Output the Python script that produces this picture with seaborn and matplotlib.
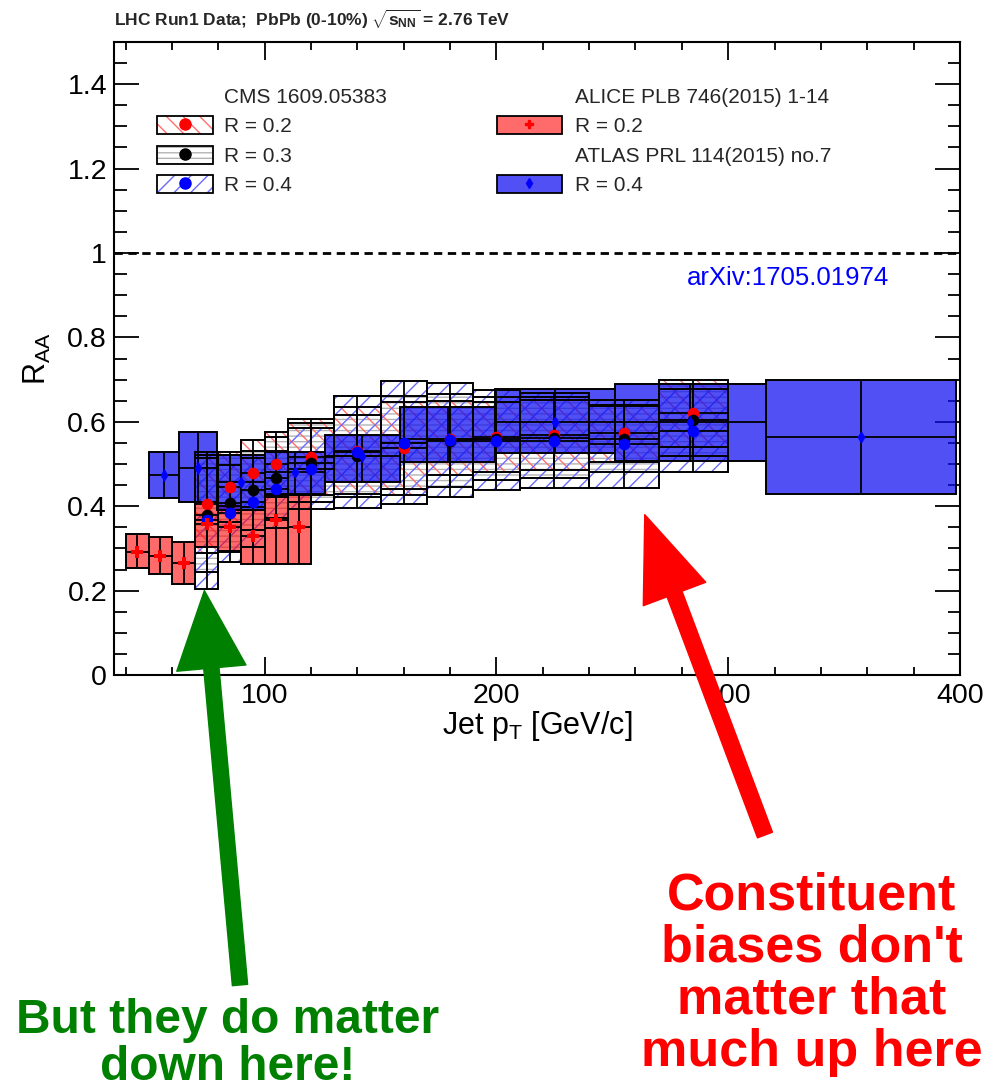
import numpy as np
import matplotlib
matplotlib.use("Agg")
import matplotlib.pyplot as plt
import seaborn as sns
from matplotlib.patches import Patch
from matplotlib.lines import Line2D
from matplotlib.legend_handler import HandlerTuple
from matplotlib.ticker import MultipleLocator, FuncFormatter

# ---------------- data ----------------
# CMS 1609.05383 (0-5%), jet pT bins shared by R = 0.2, 0.3, 0.4
cms_pt_low = [70, 80, 90, 100, 110, 130, 150, 170, 190, 210, 240, 270]
cms_pt_high = [80, 90, 100, 110, 130, 150, 170, 190, 210, 240, 270, 300]

cms_r02 = [0.405, 0.446, 0.478, 0.499, 0.516, 0.530, 0.537, 0.560, 0.565, 0.569, 0.573, 0.620]
cms_r02_sys_low = [0.288, 0.363, 0.399, 0.421, 0.426, 0.430, 0.427, 0.474, 0.482, 0.486, 0.505, 0.540]
cms_r02_sys_high = [0.522, 0.529, 0.557, 0.577, 0.606, 0.636, 0.648, 0.650, 0.648, 0.652, 0.641, 0.700]

cms_r03 = [0.380, 0.407, 0.438, 0.468, 0.503, 0.520, 0.550, 0.555, 0.560, 0.562, 0.560, 0.604]
cms_r03_sys_low = [0.245, 0.293, 0.344, 0.371, 0.410, 0.423, 0.440, 0.446, 0.462, 0.466, 0.482, 0.519]
cms_r03_sys_high = [0.515, 0.521, 0.532, 0.565, 0.596, 0.617, 0.660, 0.665, 0.658, 0.658, 0.638, 0.689]

cms_r04 = [0.367, 0.383, 0.409, 0.440, 0.489, 0.528, 0.549, 0.557, 0.555, 0.555, 0.547, 0.579]
cms_r04_sys_low = [0.205, 0.268, 0.304, 0.348, 0.393, 0.395, 0.405, 0.423, 0.438, 0.442, 0.442, 0.480]
cms_r04_sys_high = [0.529, 0.498, 0.514, 0.532, 0.585, 0.661, 0.697, 0.691, 0.675, 0.668, 0.652, 0.678]

# ALICE PLB 746 (2015) 1-14, R = 0.2
alice_pt_low = [40, 50, 60, 70, 80, 90, 100, 110]
alice_pt_high = [50, 60, 70, 80, 90, 100, 110, 120]
alice_r02 = [0.292, 0.282, 0.266, 0.357, 0.350, 0.330, 0.367, 0.350]
alice_sys_low = [0.254, 0.239, 0.216, 0.304, 0.292, 0.264, 0.264, 0.264]
alice_sys_high = [0.334, 0.326, 0.316, 0.411, 0.400, 0.391, 0.427, 0.427]

# ATLAS PRL 114 (2015) 072302, R = 0.4 (logarithmic pT bins)
atlas_pt_low = [50.1, 63.1, 79.4, 100.0, 125.9, 158.5, 199.5, 251.2, 316.2]
atlas_pt_high = [63.1, 79.4, 100.0, 125.9, 158.5, 199.5, 251.2, 316.2, 398.1]
atlas_r04 = [0.475, 0.490, 0.457, 0.480, 0.520, 0.560, 0.600, 0.600, 0.565]
atlas_sys_low = [0.420, 0.411, 0.391, 0.430, 0.458, 0.505, 0.525, 0.507, 0.430]
atlas_sys_high = [0.529, 0.577, 0.521, 0.529, 0.569, 0.634, 0.677, 0.689, 0.700]

# ---------------- style ----------------
sns.set_theme(style="ticks")
plt.rcParams["font.family"] = ["Liberation Sans", "DejaVu Sans"]
plt.rcParams["mathtext.fontset"] = "custom"
plt.rcParams["mathtext.rm"] = "Liberation Sans"
plt.rcParams["mathtext.it"] = "Liberation Sans:italic"
plt.rcParams["mathtext.bf"] = "Liberation Sans:bold"
plt.rcParams["hatch.linewidth"] = 1.0

RED_HATCH = "#ff6f6f"
BLUE_HATCH = "#6a6aff"
GRAY_HATCH = "#b4b4b4"
ALICE_FILL = (1.0, 0.0, 0.0, 0.58)
ATLAS_FILL = (0.05, 0.05, 0.95, 0.72)

fig = plt.figure(figsize=(9.98, 10.9), dpi=100)
ax = fig.add_axes([0.1142, 0.3807, 0.8477, 0.5808])


def bin_geometry(lo_edges, hi_edges):
    lo_edges = np.asarray(lo_edges, float)
    hi_edges = np.asarray(hi_edges, float)
    return lo_edges, hi_edges - lo_edges, 0.5 * (lo_edges + hi_edges)


def sys_boxes(lo_edges, hi_edges, sys_lo, sys_hi, z, **style):
    left, width, _ = bin_geometry(lo_edges, hi_edges)
    ax.bar(left, np.subtract(sys_hi, sys_lo), width=width, bottom=sys_lo,
           align="edge", zorder=z, **style)


def outline_and_cross(lo_edges, hi_edges, val, sys_lo, sys_hi):
    left, width, center = bin_geometry(lo_edges, hi_edges)
    ax.bar(left, np.subtract(sys_hi, sys_lo), width=width, bottom=sys_lo,
           align="edge", fill=False, edgecolor="black", linewidth=1.4, zorder=5)
    val = np.asarray(val)
    ax.errorbar(center, val, xerr=width / 2,
                yerr=[val - np.asarray(sys_lo), np.asarray(sys_hi) - val],
                fmt="none", ecolor="black", elinewidth=1.3, capsize=0, zorder=6)


# CMS hatched systematics boxes
sys_boxes(cms_pt_low, cms_pt_high, cms_r03_sys_low, cms_r03_sys_high, 2,
          facecolor="none", edgecolor=GRAY_HATCH, hatch="---", linewidth=0)
sys_boxes(cms_pt_low, cms_pt_high, cms_r02_sys_low, cms_r02_sys_high, 2,
          facecolor="none", edgecolor=RED_HATCH, hatch="\\\\", linewidth=0)
sys_boxes(cms_pt_low, cms_pt_high, cms_r04_sys_low, cms_r04_sys_high, 2,
          facecolor="none", edgecolor=BLUE_HATCH, hatch="//", linewidth=0)

# ALICE and ATLAS filled boxes
sys_boxes(alice_pt_low, alice_pt_high, alice_sys_low, alice_sys_high, 3,
          facecolor=ALICE_FILL, edgecolor="none", linewidth=0)
sys_boxes(atlas_pt_low, atlas_pt_high, atlas_sys_low, atlas_sys_high, 4,
          facecolor=ATLAS_FILL, edgecolor="none", linewidth=0)

# box outlines and error crosses
for lo_e, hi_e, v, slo, shi in [
    (cms_pt_low, cms_pt_high, cms_r03, cms_r03_sys_low, cms_r03_sys_high),
    (cms_pt_low, cms_pt_high, cms_r02, cms_r02_sys_low, cms_r02_sys_high),
    (cms_pt_low, cms_pt_high, cms_r04, cms_r04_sys_low, cms_r04_sys_high),
    (alice_pt_low, alice_pt_high, alice_r02, alice_sys_low, alice_sys_high),
    (atlas_pt_low, atlas_pt_high, atlas_r04, atlas_sys_low, atlas_sys_high),
]:
    outline_and_cross(lo_e, hi_e, v, slo, shi)

# markers
cms_x = bin_geometry(cms_pt_low, cms_pt_high)[2]
sns.scatterplot(x=cms_x, y=cms_r02, ax=ax, color="red", marker="o", s=70,
                linewidth=0, zorder=7, legend=False)
sns.scatterplot(x=cms_x, y=cms_r03, ax=ax, color="black", marker="o", s=70,
                linewidth=0, zorder=7, legend=False)
sns.scatterplot(x=cms_x, y=cms_r04, ax=ax, color="blue", marker="o", s=70,
                linewidth=0, zorder=7, legend=False)
sns.scatterplot(x=bin_geometry(atlas_pt_low, atlas_pt_high)[2], y=atlas_r04, ax=ax,
                color="blue", marker="d", s=45, linewidth=0, zorder=8, legend=False)
sns.scatterplot(x=bin_geometry(alice_pt_low, alice_pt_high)[2], y=alice_r02, ax=ax,
                color="red", marker="P", s=80, linewidth=0, zorder=8, legend=False)

# unity line
ax.axhline(1.0, color="black", linestyle=(0, (3, 2)), linewidth=2, zorder=1)

# ---------------- axes ----------------
ax.set_xlim(35, 400)
ax.set_ylim(0, 1.5)
ax.xaxis.set_major_locator(MultipleLocator(100))
ax.xaxis.set_minor_locator(MultipleLocator(20))
ax.yaxis.set_major_locator(MultipleLocator(0.2))
ax.yaxis.set_minor_locator(MultipleLocator(0.05))
ax.yaxis.set_major_formatter(FuncFormatter(lambda v, p: f"{v:g}"))
ax.xaxis.set_major_formatter(FuncFormatter(lambda v, p: f"{v:g}"))
for s in ax.spines.values():
    s.set_linewidth(1.5)
    s.set_color("black")
ax.tick_params(axis="both", which="both", direction="in", top=True, right=True,
               width=1.3, color="black", labelsize=20.5, labelcolor="black")
ax.tick_params(axis="y", which="major", length=18, pad=5)
ax.tick_params(axis="y", which="minor", length=9)
ax.tick_params(axis="x", which="major", length=13, pad=6)
ax.tick_params(axis="x", which="minor", length=6)
ax.set_xlabel(r"Jet p$_{\mathrm{T}}$ [GeV/c]", fontsize=22, labelpad=0, color="black")
ax.set_ylabel(r"R$_{\mathrm{AA}}$", fontsize=22, labelpad=10, color="black")
ax.set_facecolor("white")
fig.patch.set_facecolor("white")

ax.text(0.797, 0.627, "arXiv:1705.01974", transform=ax.transAxes, color="blue",
        fontsize=18.5, ha="center", va="center")

fig.text(114 / 998, 1 - 26 / 1090,
         r"LHC Run1 Data;  PbPb (0-10%) $\sqrt{\mathbf{s}_{\mathbf{NN}}}$ = 2.76 TeV",
         fontsize=12.5, fontweight="bold", ha="left", va="baseline")

# ---------------- legends ----------------
blank = Line2D([], [], linestyle="none")


def cms_handle(hcolor, hatch, mcolor):
    return (Patch(facecolor="white", edgecolor=hcolor, hatch=hatch, linewidth=0),
            Patch(fill=False, edgecolor="black", linewidth=1.3),
            Line2D([], [], marker="o", color=mcolor, linestyle="none", markersize=8))


def filled_handle(fcolor, marker, mcolor, msize):
    return (Patch(facecolor=fcolor, edgecolor="black", linewidth=1.3),
            Line2D([], [], marker=marker, color=mcolor, linestyle="none", markersize=msize))


leg_kw = dict(loc="upper left", frameon=False, fontsize=15, handleheight=0.96,
              labelspacing=0.44, borderpad=0, borderaxespad=0,
              handler_map={tuple: HandlerTuple(ndivide=1)})

leg1 = ax.legend(
    handles=[blank,
             cms_handle(RED_HATCH, "\\\\", "red"),
             cms_handle(GRAY_HATCH, "---", "black"),
             cms_handle(BLUE_HATCH, "//", "blue")],
    labels=["CMS 1609.05383", "R = 0.2", "R = 0.3", "R = 0.4"],
    bbox_to_anchor=(0.0508, 0.929), handlelength=2.67, handletextpad=0.56, **leg_kw)
ax.add_artist(leg1)

leg2 = ax.legend(
    handles=[blank,
             filled_handle(ALICE_FILL, "P", "red", 6),
             blank,
             filled_handle(ATLAS_FILL, "d", "blue", 5)],
    labels=["ALICE PLB 746(2015) 1-14", "R = 0.2", "ATLAS PRL 114(2015) no.7", "R = 0.4"],
    bbox_to_anchor=(0.4527, 0.929), handlelength=3.12, handletextpad=0.63, **leg_kw)
for leg in (leg1, leg2):
    leg.set_zorder(10)

# ---------------- annotations ----------------
ax.annotate("", xy=(74, 0.2), xycoords="data", xytext=(240, 105),
            textcoords="figure pixels", annotation_clip=False,
            arrowprops=dict(arrowstyle="simple,head_length=5.6,head_width=5.0,tail_width=1.1",
                            color="#008000", shrinkA=0, shrinkB=0, mutation_scale=10),
            zorder=20)
ax.annotate("", xy=(264, 0.38), xycoords="data", xytext=(765, 255),
            textcoords="figure pixels", annotation_clip=False,
            arrowprops=dict(arrowstyle="simple,head_length=6.1,head_width=4.8,tail_width=1.15",
                            color="red", shrinkA=0, shrinkB=0, mutation_scale=10),
            zorder=20)

fig.text(228 / 998, 1 - 1044 / 1090, "But they do matter\ndown here!", color="#008000",
         fontsize=34.5, fontweight="bold", ha="center", va="center", linespacing=1.05)
fig.text(812 / 998, 1 - 974 / 1090, "Constituent\nbiases don't\nmatter that\nmuch up here",
         color="red", fontsize=37.5, fontweight="bold", ha="center", va="center",
         linespacing=1.08)

fig.savefig("out.png", dpi=100, facecolor="white")
